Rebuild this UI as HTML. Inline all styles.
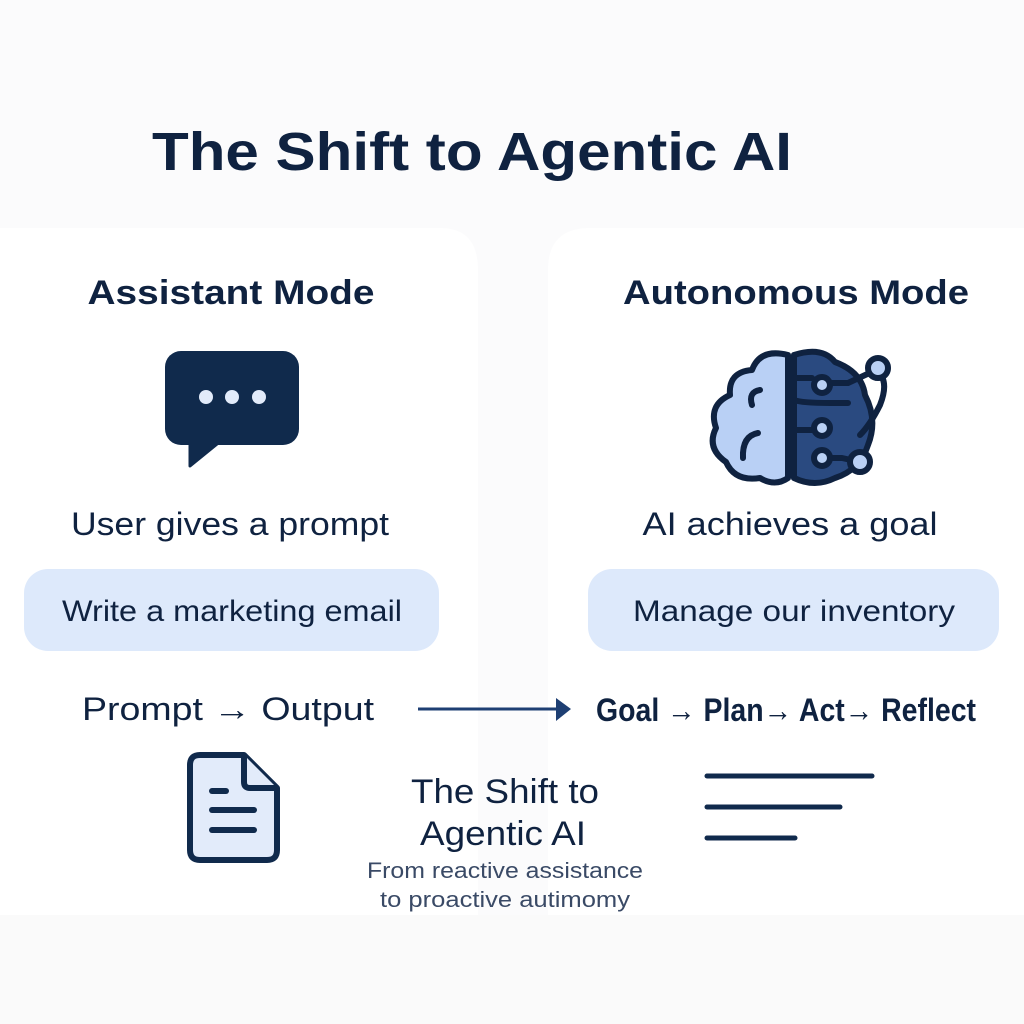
<!DOCTYPE html>
<html><head><meta charset="utf-8"><style>
html,body{margin:0;padding:0;background:#fbfbfc;}
svg{display:block}
text{font-family:"Liberation Sans","DejaVu Sans",sans-serif;fill:#0f2240}
</style></head><body>
<svg width="1024" height="1024" viewBox="0 0 1024 1024" xmlns="http://www.w3.org/2000/svg">
<rect width="1024" height="1024" fill="#fbfbfc"/>
<!-- panels -->
<path d="M0 228 H440 Q478 228 478 270 V915 H0 Z" fill="#ffffff"/>
<path d="M1024 228 H590 Q548 228 548 270 V915 H1024 Z" fill="#ffffff"/>
<rect x="0" y="915" width="1024" height="109" fill="#fafafa"/>

<text x="472" y="170" font-size="54" font-weight="bold" text-anchor="middle" textLength="640" lengthAdjust="spacingAndGlyphs">The Shift to Agentic AI</text>

<text x="231" y="304" font-size="34" font-weight="bold" text-anchor="middle" textLength="287" lengthAdjust="spacingAndGlyphs">Assistant Mode</text>
<text x="796" y="304" font-size="34" font-weight="bold" text-anchor="middle" textLength="346" lengthAdjust="spacingAndGlyphs">Autonomous Mode</text>

<!-- chat icon -->
<rect x="165" y="351" width="134" height="94" rx="16" fill="#102a4c"/>
<path d="M190 440 L190 466 L222 440 Z" fill="#102a4c" stroke="#102a4c" stroke-width="3" stroke-linejoin="round"/>
<circle cx="206" cy="397" r="7" fill="#e2ebfa"/>
<circle cx="232" cy="397" r="7" fill="#e2ebfa"/>
<circle cx="259" cy="397" r="7" fill="#e2ebfa"/>

<!-- brain -->
<g stroke="#0f2240" stroke-width="6" stroke-linejoin="round" stroke-linecap="round">
<path d="M788 355 Q760 348 752 370 Q728 372 730 395 Q708 405 716 428 Q706 448 726 462 Q735 482 760 478 Q775 487 788 478 Z" fill="#b9d0f5"/>
<path d="M794 355 Q822 346 835 362 Q862 372 865 395 Q878 420 868 445 Q860 470 835 478 Q815 488 794 478 Z" fill="#2a4a80"/>
<path d="M760 390 Q748 392 752 405" fill="none"/>
<path d="M758 433 Q742 436 743 458" fill="none"/>
<path d="M794 378 H812 M794 400 Q802 403 830 403 H848 M794 430 H812 M822 458 H842 L860 462" fill="none"/>
<path d="M830 383 H848 L876 370 M876 370 Q890 380 880 405 Q870 425 860 435" fill="none"/>
<circle cx="822" cy="385" r="8" fill="#b9d0f5"/>
<circle cx="822" cy="428" r="8" fill="#b9d0f5"/>
<circle cx="822" cy="458" r="8" fill="#b9d0f5"/>
<circle cx="878" cy="368" r="10" fill="#b9d0f5"/>
<circle cx="860" cy="462" r="10" fill="#b9d0f5"/>
</g>

<text x="230" y="535" font-size="32" text-anchor="middle" textLength="318" lengthAdjust="spacingAndGlyphs">User gives a prompt</text>
<text x="790" y="535" font-size="32" text-anchor="middle" textLength="295" lengthAdjust="spacingAndGlyphs">AI achieves a goal</text>

<rect x="24" y="569" width="415" height="82" rx="24" fill="#dde9fb"/>
<rect x="588" y="569" width="411" height="82" rx="24" fill="#dde9fb"/>
<text x="232" y="621" font-size="30" text-anchor="middle" textLength="340" lengthAdjust="spacingAndGlyphs">Write a marketing email</text>
<text x="794" y="621" font-size="30" text-anchor="middle" textLength="322" lengthAdjust="spacingAndGlyphs">Manage our inventory</text>

<text x="228" y="720" font-size="32" text-anchor="middle" textLength="292" lengthAdjust="spacingAndGlyphs">Prompt → Output</text>
<line x1="418" y1="709" x2="556" y2="709" stroke="#1e3f73" stroke-width="3"/>
<path d="M556 698 L571 709 L556 721 Z" fill="#1e3f73"/>
<text x="786" y="721" font-size="32" font-weight="bold" text-anchor="middle" textLength="380" lengthAdjust="spacingAndGlyphs" style="font-weight:600">Goal → Plan→ Act→ Reflect</text>

<!-- doc icon -->
<path d="M200 755 H244 L277 788 V850 Q277 860 267 860 H200 Q190 860 190 850 V765 Q190 755 200 755 Z" fill="#e2ebfa" stroke="#102a4c" stroke-width="6" stroke-linejoin="round"/>
<path d="M244 755 V782 Q244 788 250 788 H277" fill="#e2ebfa" stroke="#102a4c" stroke-width="6" stroke-linejoin="round"/>
<g stroke="#102a4c" stroke-width="6" stroke-linecap="round">
<line x1="212" y1="791" x2="226" y2="791"/>
<line x1="212" y1="810" x2="254" y2="810"/>
<line x1="212" y1="830" x2="254" y2="830"/>
</g>

<text x="505" y="803" font-size="34" text-anchor="middle" textLength="188" lengthAdjust="spacingAndGlyphs">The Shift to</text>
<text x="503" y="845" font-size="34" text-anchor="middle" textLength="166" lengthAdjust="spacingAndGlyphs">Agentic AI</text>
<text x="505" y="878" font-size="22" text-anchor="middle" style="fill:#3a4a66" textLength="276" lengthAdjust="spacingAndGlyphs">From reactive assistance</text>
<text x="505" y="907" font-size="22" text-anchor="middle" style="fill:#3a4a66" textLength="250" lengthAdjust="spacingAndGlyphs">to proactive autimomy</text>

<g stroke="#102a4c" stroke-width="5" stroke-linecap="round">
<line x1="707" y1="776" x2="872" y2="776"/>
<line x1="707" y1="807" x2="840" y2="807"/>
<line x1="707" y1="838" x2="795" y2="838"/>
</g>
</svg>
</body></html>
